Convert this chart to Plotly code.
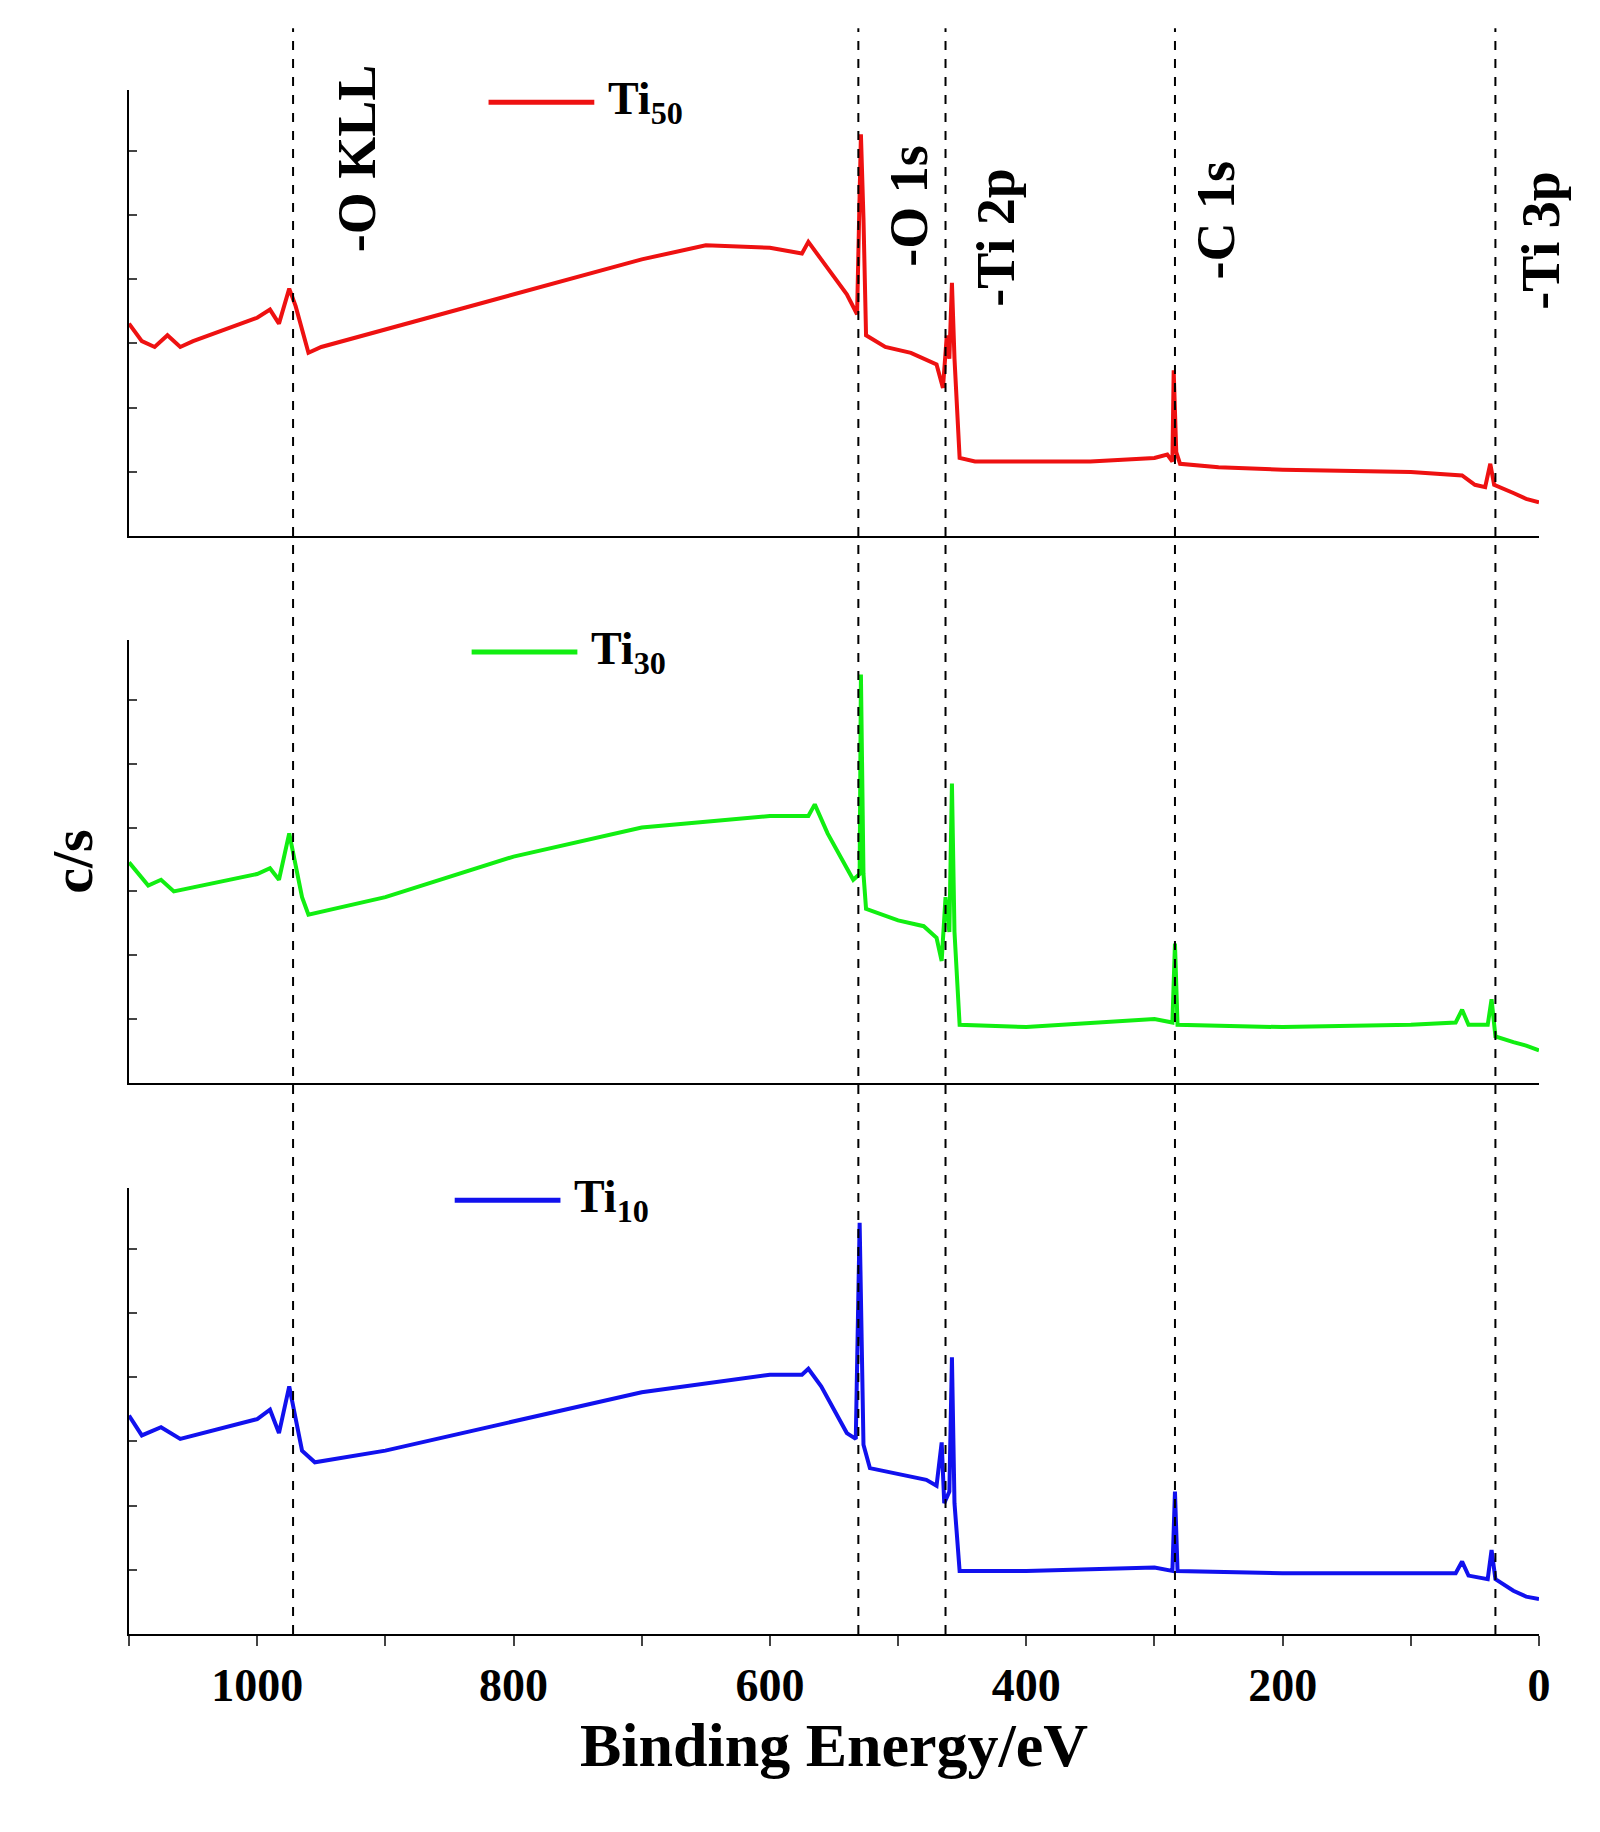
import plotly.graph_objects as go

# binding energy (eV) and intensity (arb.)
red_e = [1100,1090,1080,1070,1060,1050,1000,990,983,975,970,960,950,900,800,700,650,600,575,570,560,540,532,530,529,527,525,510,490,470,465,462,460,458,456,452,440,400,350,300,290,286,285,283,280,250,200,100,60,50,42,38,35,20,10,0]
red_y = [270,285,290,280,290,285,265,258,270,240,255,295,290,275,245,215,203,205,210,200,215,245,262,180,108,180,280,290,295,305,325,280,300,235,300,385,388,388,388,385,382,388,310,380,390,393,395,397,400,408,410,390,408,415,420,423]
green_e = [1100,1085,1075,1065,1000,990,983,975,965,960,900,800,700,600,570,565,555,535,530,529,527,525,500,480,470,466,463,460,458,456,452,400,300,286,284,282,200,100,65,60,55,40,37,34,20,10,0]
green_y = [730,750,745,755,740,735,745,705,760,775,760,725,700,690,690,680,705,745,740,568,740,770,780,785,795,815,760,790,662,790,870,872,865,868,800,870,872,870,868,857,870,870,848,880,885,888,892]
blue_e = [1100,1090,1075,1060,1000,990,983,975,965,955,900,800,700,600,575,570,560,540,533,530,527,522,500,478,470,466,464,460,458,456,452,400,300,286,284,282,200,100,65,60,55,40,37,34,20,10,0]
blue_y = [1205,1222,1215,1225,1208,1200,1220,1180,1235,1245,1235,1210,1185,1170,1170,1165,1180,1220,1225,1040,1230,1250,1255,1260,1265,1228,1280,1270,1155,1280,1338,1338,1335,1338,1270,1338,1340,1340,1340,1330,1342,1345,1320,1345,1355,1360,1362]
series_names = ["Ti<sub>50</sub>", "Ti<sub>30</sub>", "Ti<sub>10</sub>"]
peak_pos = [972, 531, 463, 284, 34]
peak_labels = ["-O KLL", "-O 1s", "-Ti 2p", "-C 1s", "-Ti 3p"]
label_top = [1.018, 0.966, 0.951, 0.956, 0.949]
label_shift = [64, 51, 51, 41, 46]
x_ticks = [1000, 800, 600, 400, 200, 0]

F = "Liberation Serif"
fig = go.Figure()
panels = [(red_e, red_y, "#ee1111", 452, "", [0.711, 1.0]),
          (green_e, green_y, "#11ee11", 920, "2", [0.357, 0.644]),
          (blue_e, blue_y, "#1111ee", 1392, "3", [0.0, 0.289])]
for i, (e, y, c, base, ax, dom) in enumerate(panels):
    fig.add_trace(go.Scatter(x=e, y=[base - v for v in y], mode="lines",
                             line=dict(color=c, width=4), showlegend=False,
                             xaxis="x" + ax, yaxis="y" + ax))
    last = i == 2
    fig.layout["xaxis" + ax] = dict(range=[1100, 0], domain=[0, 1], anchor="y" + ax,
        showline=True, linecolor="black", linewidth=2, showgrid=False, zeroline=False,
        ticks="outside" if last else "", ticklen=10, tickwidth=2,
        tickvals=list(range(0, 1101, 100)) if last else None,
        ticktext=["<b>" + str(v) + "</b>" if v in x_ticks else "" for v in range(0, 1101, 100)] if last else None,
        showticklabels=last, tickfont=dict(family=F, size=46, color="black"),
        title=dict(text="<b>Binding Energy/eV</b>", font=dict(family=F, size=62, color="black"), standoff=8) if last else None)
    fig.layout["yaxis" + ax] = dict(range=[0, 382], domain=dom, anchor="x" + ax,
        showline=True, linecolor="black", linewidth=2, showgrid=False, zeroline=False,
        ticks="inside", ticklen=8, tickwidth=1.5, dtick=55, tick0=0, showticklabels=False)
    ly = dom[1] - 0.008
    fig.add_shape(type="line", xref="paper", yref="paper", x0=0.255 - 0.012 * i, x1=0.33 - 0.012 * i,
                  y0=ly, y1=ly, line=dict(color=c, width=5))
    fig.add_annotation(xref="paper", yref="paper", x=0.338 - 0.012 * i, y=ly, xanchor="left",
                       yanchor="middle", showarrow=False, text="<b>" + series_names[i] + "</b>",
                       font=dict(family=F, size=46, color="black"))

for p, lab, yy, sh in zip(peak_pos, peak_labels, label_top, label_shift):
    fig.add_shape(type="line", xref="x3", yref="paper", x0=p, x1=p, y0=0, y1=1.04,
                  line=dict(color="black", width=2, dash="dash"))
    fig.add_annotation(xref="x3", yref="paper", x=p, y=yy, xshift=sh, textangle=-90,
                       xanchor="center", yanchor="top",
                       showarrow=False, text="<b>" + lab + "</b>",
                       font=dict(family=F, size=54, color="black"))

fig.add_annotation(xref="paper", yref="paper", x=-0.065, y=0.5, textangle=-90, showarrow=False,
                   text="<b>c/s</b>", font=dict(family=F, size=58, color="black"))

fig.update_layout(width=1600, height=1832, plot_bgcolor="white", paper_bgcolor="white",
                  margin=dict(l=121, r=69, t=82, b=206))
fig.write_html("out.html")
